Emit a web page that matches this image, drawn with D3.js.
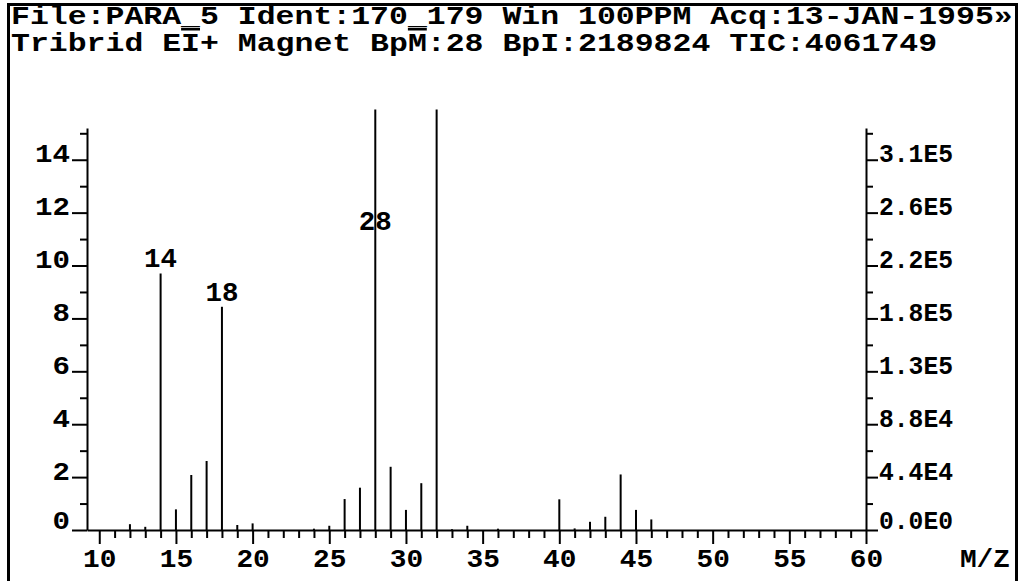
<!DOCTYPE html>
<html>
<head>
<style>
body { margin: 0; background: #fff; }
svg { display: block; }
text { font-family: "Liberation Mono", "DejaVu Sans Mono", monospace; font-weight: bold; fill: #000; }
.axis path, .axis line { stroke: #000; stroke-width: 2px; }
.peak { stroke: #000; stroke-width: 2px; }
</style>
</head>
<body>
<script src="https://d3js.org/d3.v7.min.js"></script>
<script>
const W = 1023, H = 581;

// header lines
const header1 = "File:PARA_5 Ident:170_179 Win 100PPM Acq:13-JAN-1995\u00bb";
const header2 = ["Tribrid E", "I", "+ Magnet Bp", "M", ":28 BpI:2189824 TIC:4061749"];

// spectrum: m/z and intensity in % of base peak
const mz  = [12, 13, 14, 15, 16, 17, 18, 19, 20, 24, 25, 26, 27, 28, 29, 30, 31, 32, 33, 34, 36, 40, 41, 42, 43, 44, 45, 46];
const pct = [0.22, 0.12, 9.7, 0.78, 2.08, 2.61, 8.44, 0.19, 0.25, 0.05, 0.16, 1.17, 1.6, 100, 2.39, 0.76, 1.77, 27, 0.03, 0.16, 0.05, 1.16, 0.06, 0.31, 0.5, 2.1, 0.76, 0.4];

// labelled peaks; off-scale ones get their label at a fixed level
const labelMz = [14, 18, 28];
const offScaleLabelLevel = 11.35;

// axes
const xTicks = [10, 15, 20, 25, 30, 35, 40, 45, 50, 55, 60];
const yTicks = [0, 2, 4, 6, 8, 10, 12, 14];
const rightLabels = ["0.0E0", "4.4E4", "8.8E4", "1.3E5", "1.8E5", "2.2E5", "2.6E5", "3.1E5"];
const clipTop = 15.9;

const svg = d3.select("body")
  .append("svg")
  .attr("width", W)
  .attr("height", H);

function fit(sel, cw) {
  sel.each(function() {
    const t = d3.select(this);
    t.attr("textLength", t.text().length * cw)
     .attr("lengthAdjust", "spacingAndGlyphs");
  });
}

// frame
svg.append("rect")
  .attr("x", 8.5).attr("y", 4.5)
  .attr("width", 1008).attr("height", 600)
  .attr("fill", "none")
  .attr("stroke", "#000")
  .attr("stroke-width", 3);

svg.append("text")
  .attr("x", 11).attr("y", 24)
  .style("font-size", "25px")
  .text(header1)
  .call(fit, 18.9);

const h2 = svg.append("text")
  .attr("x", 11).attr("y", 51)
  .style("font-size", "25px");
header2.forEach((s, i) => {
  h2.append("tspan")
    .style("text-decoration", i % 2 ? "overline" : "none")
    .text(s);
});
h2.call(fit, 18.9);

const x = d3.scaleLinear().domain([9.2, 60]).range([87, 866]);
const y = d3.scaleLinear().domain([0, 15.2]).range([530, 128]);

// left axis
const left = svg.append("g")
  .attr("class", "axis")
  .attr("transform", `translate(${x.range()[0]},0)`);
left.call(d3.axisLeft(y).tickValues(yTicks).tickSize(15).tickSizeOuter(0).tickPadding(2));
left.append("g").call(d3.axisLeft(y).tickValues(d3.range(1, 16, 2)).tickSize(7).tickFormat(""))
  .select(".domain").remove();
left.selectAll(".tick text")
  .attr("dy", d => d === 0 ? "-2px" : "2px")
  .style("font-size", "25px")
  .call(fit, 17.5);

// right axis
const right = svg.append("g")
  .attr("class", "axis")
  .attr("transform", `translate(${x.range()[1]},0)`);
right.call(d3.axisRight(y).tickValues(yTicks).tickSize(12).tickSizeOuter(0).tickPadding(1)
  .tickFormat((d, i) => rightLabels[i]));
right.append("g").call(d3.axisRight(y).tickValues(d3.range(1, 16, 2)).tickSize(7).tickFormat(""))
  .select(".domain").remove();
right.selectAll(".tick text")
  .attr("dy", d => d === 0 ? "-2px" : "2px")
  .style("font-size", "25px")
  .call(fit, 14.8);

// bottom axis
const bottom = svg.append("g")
  .attr("class", "axis")
  .attr("transform", `translate(0,${y(0)})`);
bottom.call(d3.axisBottom(x).tickValues(xTicks).tickSize(14).tickSizeOuter(0));
bottom.append("g").call(d3.axisBottom(x).tickValues(d3.range(10, 61).filter(d => d % 5)).tickSize(8).tickFormat(""))
  .select(".domain").remove();
bottom.selectAll(".tick text")
  .attr("y", 37).attr("dy", 0)
  .style("font-size", "25px")
  .call(fit, 16.7);

svg.append("text")
  .attr("x", 1010).attr("y", y(0) + 37)
  .attr("text-anchor", "end")
  .style("font-size", "25px")
  .text("M/Z")
  .call(fit, 16.7);

// peaks
const peaks = mz.map((m, i) => ({ m: m, v: pct[i] }));
svg.selectAll("line.peak")
  .data(peaks)
  .join("line")
  .attr("class", "peak")
  .attr("x1", d => x(d.m)).attr("x2", d => x(d.m))
  .attr("y1", y(0))
  .attr("y2", d => y(Math.min(d.v, clipTop)));

svg.selectAll("text.plabel")
  .data(labelMz.map(m => peaks.find(p => p.m === m)))
  .join("text")
  .attr("class", "plabel")
  .attr("x", d => x(d.m))
  .attr("y", d => d.v > clipTop ? y(offScaleLabelLevel) : y(d.v) - 6)
  .attr("text-anchor", "middle")
  .style("font-size", "28px")
  .text(d => d.m)
  .call(fit, 16.5);
</script>
</body>
</html>
